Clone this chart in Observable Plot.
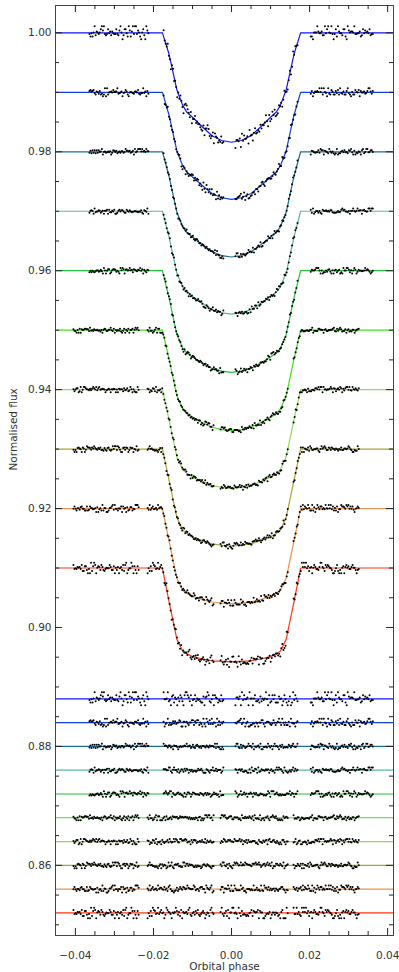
<!DOCTYPE html>
<html><head><meta charset="utf-8">
<script src="https://cdn.jsdelivr.net/npm/d3@7"></script>
<script src="https://cdn.jsdelivr.net/npm/@observablehq/plot@0.6"></script>
<style>html,body{margin:0;padding:0;background:#fff;} #chart svg{display:block;}</style>
</head><body><div id="chart"></div>
<script>
// ---- data ----
const curveBaselines = [1.00, 0.99, 0.98, 0.97, 0.96, 0.95, 0.94, 0.93, 0.92, 0.91];
const residualBaselines = [0.888, 0.884, 0.880, 0.876, 0.872, 0.868, 0.864, 0.860, 0.856, 0.852];
const curveColors = ["#1414ff", "#1040e0", "#1a6e98", "#5cb5a8", "#22c23c", "#40e020", "#92d85c", "#a8a432", "#e8944e", "#ff3414"];
const curveDataset = ["A", "A", "A", "A", "A", "B", "B", "B", "B", "B"];
const segmentsA = [[-0.0364, -0.0213], [-0.0174, -0.0021], [0.0010, 0.0169], [0.0203, 0.0362]];
const segmentsB = [[-0.0405, -0.0238], [-0.0215, -0.0046], [-0.0028, 0.0144], [0.0159, 0.0326]];
const modelHalfPhases = [0, 0.0025, 0.005, 0.0075, 0.010, 0.0115, 0.0125, 0.014, 0.016, 0.0177];
const modelDepths = [
  [0.0184, 0.0181, 0.0173, 0.0158, 0.0142, 0.0133, 0.0122, 0.0096, 0.0036, 0],
  [0.0180, 0.01773, 0.01701, 0.01568, 0.01424, 0.01339, 0.01238, 0.00986, 0.00385, 0],
  [0.0177, 0.01745, 0.01682, 0.01563, 0.01434, 0.01354, 0.01262, 0.01018, 0.00412, 0],
  [0.0173, 0.01708, 0.01654, 0.01548, 0.01434, 0.0136, 0.01275, 0.0104, 0.00434, 0],
  [0.0171, 0.01689, 0.01643, 0.01551, 0.0145, 0.0138, 0.01303, 0.01072, 0.0046, 0],
  [0.0169, 0.01673, 0.01633, 0.01555, 0.01465, 0.01398, 0.0133, 0.01105, 0.00487, 0],
  [0.0166, 0.01645, 0.01612, 0.01547, 0.01471, 0.01408, 0.01348, 0.01129, 0.00508, 0],
  [0.0163, 0.01617, 0.01593, 0.01539, 0.01475, 0.01416, 0.01363, 0.01151, 0.00528, 0],
  [0.0160, 0.01589, 0.01571, 0.0153, 0.01478, 0.01424, 0.01378, 0.01173, 0.00549, 0],
  [0.0158, 0.0157, 0.0156, 0.0153, 0.0149, 0.0144, 0.0140, 0.0120, 0.0057, 0]
];
const noiseSigma = [0.00052, 0.00032, 0.00022, 0.00021, 0.00022, 0.0002, 0.00021, 0.00023, 0.00028, 0.00042];
const digitQuantiles = [-2.1, -1.2, -0.75, -0.4, -0.12, 0.12, 0.4, 0.75, 1.2, 2.1];
const noiseDigits = [
  ["3141592653589793238462643383279502884197169399375105820974",
   "9445923078164062862089986280348253421170679821480865132823",
   "0664709384460955058223172535940812848111745028410270193852",
   "1105559644622948954930381964428810975665933446128475648233"],
  ["7867831652712019091456485669234603486104543266482133936072",
   "6024914127372458700660631558817488152092096282925409171536",
   "4367892590360011330530548820466521384146951941511609433057",
   "2703657595919530921861173819326117931051185480744623799627"],
  ["2718281828459045235360287471352662497757247093699959574966",
   "9676277240766303535475945713821785251664274274663919320030",
   "5992181741359662904357290033429526059563073813232862794349",
   "0763233829880753195251019011573834187930702154089149934884"],
  ["1675092447614606680822648001684774118537423454424371075390",
   "7774499206955170276183860626133138458300075204493382656029",
   "7606737113200709328709127443747047230696977209310141692836",
   "8190255151086574637721112523897844250569536967707854499699"],
  ["1414213562373095048801688724209698078569671875376948073176",
   "6797379907324784621070388503875343276415727350138462309122",
   "9702492483605585073721264412149709993583141322266592750559",
   "2755799950501152782060571470109559971605970274534596862014"],
  ["7320508075688772935274463415058723669428052538103806280558069794",
   "5193301690880003708114618675724857567562614141540670302996994509",
   "4998952478811655512094373648528093231902305582067974820101084674",
   "9232650153123432669033228866506722546689218379712270471316603678"],
  ["6158801904998653737985938946765034750657605075661834812960610094",
   "7602187190325083145829523959832997789824508288714463832917347224",
   "1639845878553976679580638183536661108431737808943783161020883055",
   "2490167002352071114428869599095636579708716849807289949329648428"],
  ["3020786408603988738697537582317317831395992983007838702877053913",
   "3695633121037072640192491067682311992883756411414220167427521023",
   "7299427083105989845947598766428889779614783795839022885485290357",
   "6033852808064381972344661059689722872865264153822664698420021195"],
  ["4841552784411812865345070351916500166892944154808460712771439997",
   "6292683462957743836189511012714863874697654598245178855097537901",
   "3880664961911962222957110555242923723192197738262561631468842032",
   "8537166829386496119170497388363954959381618033988749894848204586"],
  ["8343656381177203091798057628621354486227052604628189024497072072",
   "0417198734936845029865305469726180645638921462748213574025418953",
   "6931471805599453094172321214581765680755001343602552541206800094",
   "9339362196969471560586332699641868754200148102057068573368552023"]
];
const xDomain = [-0.0451, 0.0415];
const yDomain = [0.8482, 1.0046];
const xTicksMajor = [-0.04, -0.02, 0.00, 0.02, 0.04];
const xTicksMinor = [-0.035, -0.03, -0.025, -0.015, -0.01, -0.005, 0.005, 0.01, 0.015, 0.025, 0.03, 0.035];
const yTicksMajor = [0.86, 0.88, 0.90, 0.92, 0.94, 0.96, 0.98, 1.00];
const yTicksMinor = [0.85, 0.855, 0.865, 0.87, 0.875, 0.885, 0.89, 0.895, 0.905, 0.91, 0.915, 0.925, 0.93, 0.935,
  0.945, 0.95, 0.955, 0.965, 0.97, 0.975, 0.985, 0.99, 0.995];
const xLabel = "Orbital phase";
const yLabel = "Normalised flux";

// ---- build tables ----
const modelLines = [], points = [], residLines = [];
curveBaselines.forEach((base, i) => {
  const h = modelHalfPhases, dep = modelDepths[i];
  const ph = [], dp = [];
  for (let k = h.length - 1; k >= 1; k--) { ph.push(-h[k]); dp.push(dep[k]); }
  for (let k = 0; k < h.length; k++) { ph.push(h[k]); dp.push(dep[k]); }
  const depthAt = d3.scaleLinear().domain(ph).range(dp).clamp(true);
  const color = curveColors[i];
  modelLines.push({curve: i, x: xDomain[0], y: base, color});
  ph.forEach((p, k) => modelLines.push({curve: i, x: p, y: base - dp[k], color}));
  modelLines.push({curve: i, x: xDomain[1], y: base, color});
  residLines.push({y: residualBaselines[i], color});
  const segs = curveDataset[i] === "A" ? segmentsA : segmentsB;
  segs.forEach(([a, b], j) => {
    const s = noiseDigits[i][j], n = s.length;
    for (let k = 0; k < n; k++) {
      const p = a + (b - a) * k / (n - 1);
      const e = digitQuantiles[+s[k]] * noiseSigma[i];
      points.push({x: p, y: base - depthAt(p) + e});
      points.push({x: p, y: residualBaselines[i] + e});
    }
  });
});

const fmt = d3.format(".2f");
const chart = Plot.plot({
  width: 399, height: 972,
  marginLeft: 55, marginRight: 6, marginTop: 5, marginBottom: 37,
  style: {fontFamily: "DejaVu Sans", fontSize: "10.5px", color: "#333", background: "#fff"},
  x: {domain: xDomain, axis: null},
  y: {domain: yDomain, axis: null},
  color: {type: "identity"},
  marks: [
    Plot.ruleY(residLines, {y: "y", stroke: "color", strokeWidth: 1.2}),
    Plot.line(modelLines, {x: "x", y: "y", z: "curve", stroke: "color", strokeWidth: 1.2}),
    Plot.dot(points, {x: "x", y: "y", r: 1.0, fill: "#000", stroke: null}),
    Plot.frame({stroke: "#444"}),
    Plot.tickY(yTicksMajor, {y: d => d, insetRight: 331, stroke: "#222"}),
    Plot.tickY(yTicksMajor, {y: d => d, insetLeft: 331, stroke: "#222"}),
    Plot.tickY(yTicksMinor, {y: d => d, insetRight: 334, stroke: "#222"}),
    Plot.tickY(yTicksMinor, {y: d => d, insetLeft: 334, stroke: "#222"}),
    Plot.tickX(xTicksMajor, {x: d => d, insetBottom: 923, stroke: "#222"}),
    Plot.tickX(xTicksMajor, {x: d => d, insetTop: 923, stroke: "#222"}),
    Plot.tickX(xTicksMinor, {x: d => d, insetBottom: 926, stroke: "#222"}),
    Plot.tickX(xTicksMinor, {x: d => d, insetTop: 926, stroke: "#222"}),
    Plot.text(yTicksMajor, {y: d => d, frameAnchor: "left", textAnchor: "end", dx: -4, lineAnchor: "middle", text: d => fmt(d), fill: "#333"}),
    Plot.text(xTicksMajor, {x: d => d, frameAnchor: "bottom", dy: 20.5, lineAnchor: "middle", text: d => fmt(d), fill: "#333"}),
    Plot.text([xLabel], {frameAnchor: "bottom", dy: 30.8, lineAnchor: "middle", text: d => d, fill: "#333"}),
    Plot.text([yLabel], {frameAnchor: "left", dx: -41.7, lineAnchor: "middle", rotate: -90, text: d => d, fill: "#333"})
  ]
});
document.getElementById("chart").append(chart);
</script>
</body></html>
